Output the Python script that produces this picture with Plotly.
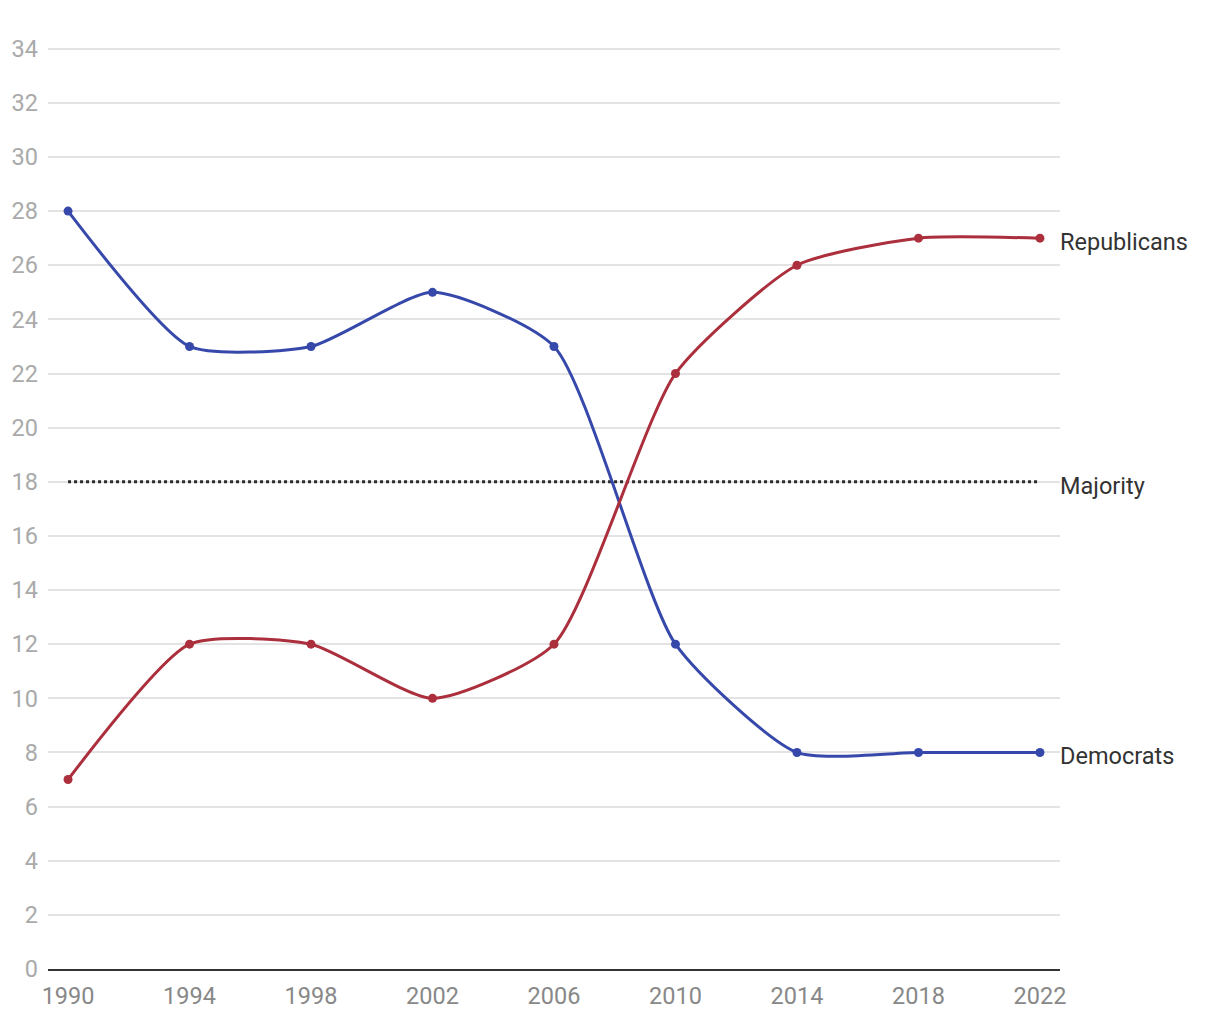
import plotly.graph_objects as go

years = [1990, 1994, 1998, 2002, 2006, 2010, 2014, 2018, 2022]
democrats = [28, 23, 23, 25, 23, 12, 8, 8, 8]
republicans = [7, 12, 12, 10, 12, 22, 26, 27, 27]
majority = [18, 18]
majority_years = [1990, 2022]

BLUE = "#3748ab"
RED = "#ab2f3c"
FONT = "Roboto, 'Noto Sans', sans-serif"

fig = go.Figure()

fig.add_trace(go.Scatter(
    x=majority_years, y=majority, mode="lines",
    line=dict(color="#2b2b2b", width=3, dash="dot"),
    hoverinfo="skip"
))

for name, vals, color in [("Democrats", democrats, BLUE), ("Republicans", republicans, RED)]:
    fig.add_trace(go.Scatter(
        x=years, y=vals, name=name, mode="lines+markers",
        line=dict(color=color, width=3, shape="spline", smoothing=0.6),
        marker=dict(color=color, size=9)
    ))

# end-of-line labels
labels = [("Republicans", republicans[-1]), ("Majority", majority[-1]), ("Democrats", democrats[-1])]
for text, y in labels:
    fig.add_annotation(
        x=years[-1], y=y, text=text, showarrow=False,
        xanchor="left", yanchor="middle", xshift=18, yshift=-4,
        font=dict(family=FONT, size=23.5, color="#333333")
    )

fig.update_xaxes(
    range=[1989.34, 2022.66],
    tickvals=years,
    ticktext=[str(y) for y in years],
    showgrid=False, zeroline=False,
    showline=True, linecolor="#333333", linewidth=2,
    ticks="", ticklabelstandoff=5,
    tickfont=dict(family=FONT, size=23.5, color="#888888"),
)
fig.update_yaxes(
    range=[0, 34.1],
    dtick=2,
    showgrid=True, gridcolor="#e3e3e3", gridwidth=2,
    zeroline=False, showline=False,
    ticks="", ticklabelstandoff=9,
    tickfont=dict(family=FONT, size=23.5, color="#aaaaaa"),
)

fig.update_layout(
    width=1220, height=1020,
    margin=dict(l=40, r=168, t=38, b=59, autoexpand=False),
    plot_bgcolor="white", paper_bgcolor="white",
    showlegend=False,
    font=dict(family=FONT),
)

fig.write_html("out.html")
